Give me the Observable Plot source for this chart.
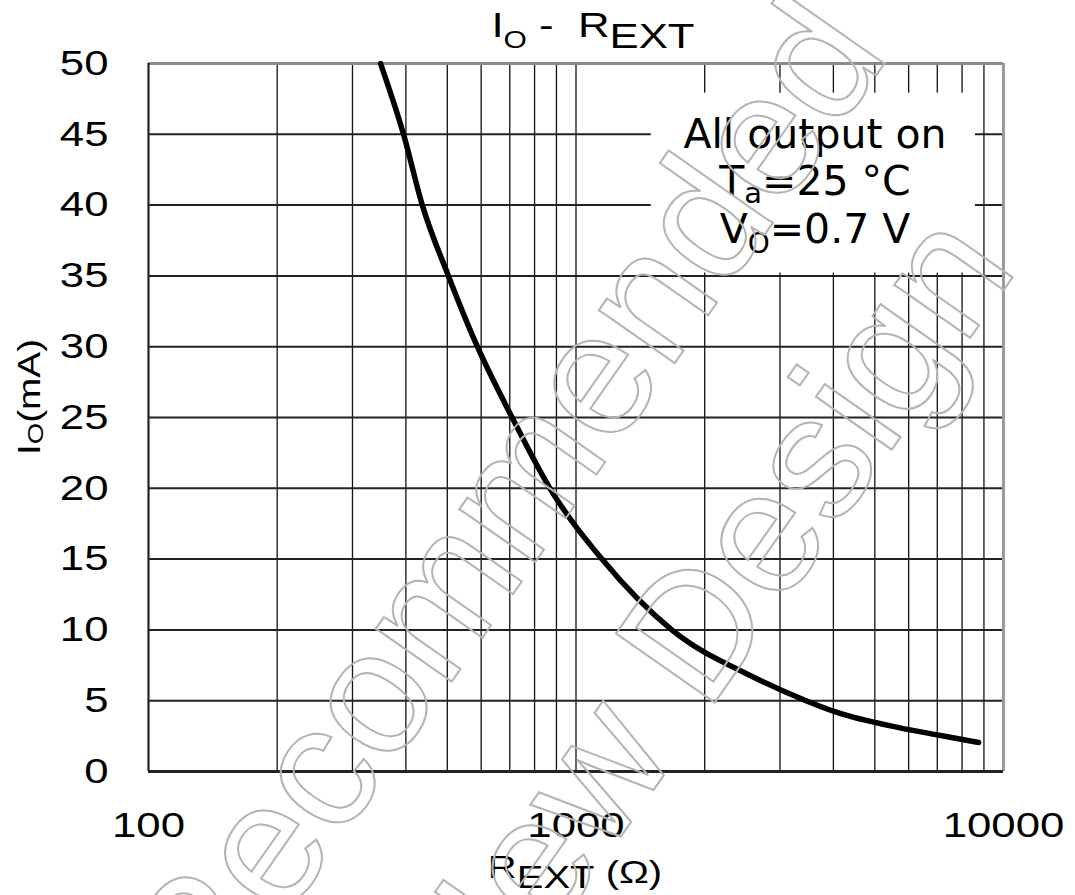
<!DOCTYPE html>
<html><head><meta charset="utf-8">
<script src="https://cdn.jsdelivr.net/npm/d3@7"></script>
<script src="https://cdn.jsdelivr.net/npm/@observablehq/plot@0.6"></script>
<style>
body{margin:0;background:#fff}
#wrap{position:relative;width:1075px;height:895px;overflow:hidden}
</style>
</head><body><div id="wrap"></div>
<script>
// ---- data ----
const rext = [349, 395, 437, 503, 588, 709, 869, 1150, 1675, 2612, 3453, 4080, 5690, 7130, 8745];
const io   = [50, 45, 40, 35, 30, 25, 20, 15, 10, 6.64, 5, 4.17, 3.1, 2.54, 2.05];
const xTickValues = [100, 1000, 10000];
const xGridValues = [200, 300, 400, 500, 600, 700, 800, 900, 1000, 2000, 3000, 4000, 5000, 6000, 7000, 8000, 9000];
const yTickValues = [0, 5, 10, 15, 20, 25, 30, 35, 40, 45, 50];
const yGridValues = [5, 10, 15, 20, 25, 30, 35, 40, 45];
const noteBox = {x1: 1500, x2: 8600, y1: 35.2, y2: 47.9};

const curve = rext.map((r, i) => ({r, i: io[i]}));

const plot = Plot.plot({
  width: 1075, height: 895,
  marginLeft: 148, marginRight: 72, marginTop: 63, marginBottom: 124,
  style: {fontFamily: "'Liberation Sans', Arial, sans-serif", fontSize: "35px", color: "#000", background: "#fff"},
  x: {type: "log", domain: [100, 10000]},
  y: {domain: [0, 50]},
  marks: [
    Plot.ruleX(xGridValues, {stroke: "#111", strokeWidth: 1.3}),
    Plot.ruleY(yGridValues, {stroke: "#222", strokeWidth: 2}),
    Plot.rect([noteBox], {x1: "x1", x2: "x2", y1: "y1", y2: "y2", fill: "white"}),
    Plot.ruleY([50], {stroke: "#8a8a8a", strokeWidth: 3}),
    Plot.ruleX([10000], {stroke: "#9a9a9a", strokeWidth: 3}),
    Plot.ruleX([100], {stroke: "#222", strokeWidth: 2.2}),
    Plot.ruleY([0], {stroke: "#222", strokeWidth: 3}),
    Plot.line(curve, {x: "r", y: "i", stroke: "#000", strokeWidth: 5.5, strokeLinejoin: "round", curve: "monotone-x"}),
    Plot.axisX({ticks: xTickValues, tickSize: 0, tickPadding: 41, label: null, tickFormat: d => String(d)}),
    Plot.axisY({ticks: yTickValues, tickSize: 0, tickPadding: 40, label: null})
  ]
});
document.getElementById("wrap").appendChild(plot);

const svg = d3.select(plot);
// widen tick labels like the reference lettering
svg.selectAll('g[aria-label="x-axis tick label"] text, g[aria-label="y-axis tick label"] text').each(function() {
  const t = this.getAttribute("transform") || "";
  const xa = this.getAttribute("x");
  const xv = xa !== null && !isNaN(+xa) ? +xa : 0;
  if (xa !== null) this.removeAttribute("x");
  this.setAttribute("transform", `${t} translate(${xv},0) scale(1.25,1)`);
});

function label(parent, cx, cy, rot, sx, size, parts, family) {
  const g = parent.append("g").attr("transform", `translate(${cx},${cy}) rotate(${rot}) scale(${sx},1)`);
  const t = g.append("text").attr("text-anchor", "middle")
    .attr("font-family", family || "'Liberation Sans', Arial, sans-serif")
    .attr("font-size", size).attr("fill", "#000");
  parts.forEach(p => {
    t.append("tspan").attr("font-size", p.size || size).attr("dy", p.dy || 0).text(p.t);
  });
  return t;
}
// title
label(svg, 593, 37, 0, 1.25, 35, [
  {t: "I"}, {t: "O", size: 24, dy: 11}, {t: "\u00a0-\u00a0\u00a0", dy: -11}, {t: "R"}, {t: "EXT", dy: 11}
]);
// x label
label(svg, 575, 878, 0, 1.25, 32, [
  {t: "R"}, {t: "EXT", dy: 10}, {t: "\u00a0(\u03a9)", dy: -5}
]);
// y label
label(svg, 40, 397, -90, 1.25, 31, [
  {t: "I"}, {t: "O", size: 22, dy: 3}, {t: "(mA)", dy: -3}
]);

// annotation
const dv = "'DejaVu Sans', Verdana, sans-serif";
const note = svg.append("g").attr("font-family", dv).attr("font-size", 41).attr("fill", "#000").attr("text-anchor", "middle");
note.append("text").attr("x", 815).attr("y", 148).text("All output on");
const l2 = note.append("text").attr("x", 815).attr("y", 195);
l2.append("tspan").text("T");
l2.append("tspan").attr("font-size", 29).attr("dy", 8).text("a");
l2.append("tspan").attr("dy", -8).text("=25 \u00b0C");
const l3 = note.append("text").attr("x", 815).attr("y", 243);
l3.append("tspan").text("V");
l3.append("tspan").attr("font-size", 28).attr("dy", 10).text("O");
l3.append("tspan").attr("dy", -10).text("=0.7 V");

// watermark
const wm = svg.append("g").attr("font-family", "'Liberation Sans', Arial, sans-serif").attr("font-size", 175)
  .attr("fill", "none").attr("stroke", "#b4b4b4").attr("stroke-width", 2).attr("text-anchor", "end");
wm.append("text").attr("transform", "translate(891,54) rotate(-55)").text("Not Recommended");
wm.append("text").attr("transform", "translate(1019,268) rotate(-55)").text("for New Design");
</script>
</body></html>
